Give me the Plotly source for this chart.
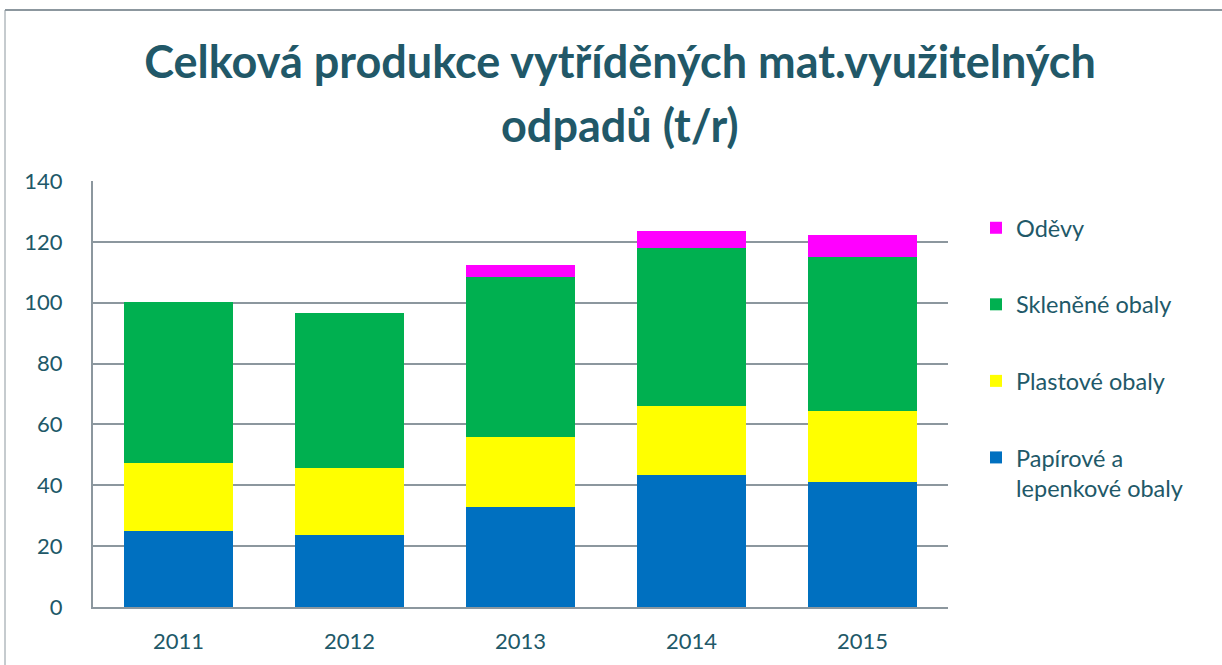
import plotly.graph_objects as go

years = ["2011", "2012", "2013", "2014", "2015"]
papir = [25.1, 23.6, 32.9, 43.3, 41.2]
plast = [22.2, 22.0, 23.1, 22.8, 23.2]
sklo = [53.0, 50.9, 52.4, 51.8, 50.6]
odevy = [0, 0, 3.9, 5.6, 7.4]

names = ["Papírové a<br>lepenkové obaly", "Plastové obaly", "Skleněné obaly", "Oděvy"]
series = [papir, plast, sklo, odevy]
colors = ["#0070C0", "#FFFF00", "#00B050", "#FF00FF"]
ranks = [4, 3, 2, 1]

TXT = "#215868"
GRID = "#8C979E"
FONT = "Lato"

fig = go.Figure()
for i, (n, v, c, r) in enumerate(zip(names, series, colors, ranks)):
    fig.add_trace(go.Bar(x=years, y=v, name=n, marker=dict(color=c, line=dict(width=0)),
                         legendgroup=f"g{i}", legendrank=r))

fig.update_layout(
    width=1222, height=665,
    barmode="stack", bargap=0.357,
    paper_bgcolor="white", plot_bgcolor="white",
    margin=dict(l=93, r=274, t=181, b=58),
    font=dict(family=FONT, color=TXT, size=22),
    title=dict(text="<b>Celková produkce vytříděných mat.využitelných</b>",
               x=620 / 1222, xanchor="center", y=1 - 62 / 665, yanchor="middle",
               yref="container", font=dict(family=FONT, size=45, color=TXT)),
    showlegend=True,
    legend=dict(x=(976 - 93) / 855, xanchor="left", y=(607 - 206) / 426, yanchor="top",
                traceorder="grouped", tracegroupgap=43, valign="top",
                font=dict(family=FONT, size=23.5, color=TXT), itemwidth=30,
                bgcolor="rgba(0,0,0,0)"),
    xaxis=dict(showline=True, linecolor=GRID, linewidth=2, ticks="", showgrid=False,
               ticklabelstandoff=14, tickfont=dict(size=22, color=TXT)),
    yaxis=dict(range=[0, 140], dtick=20, showline=True, linecolor=GRID, linewidth=2,
               showgrid=True, gridcolor=GRID, gridwidth=2, zeroline=False,
               ticks="", ticklabelstandoff=24, tickfont=dict(size=22, color=TXT)),
)

fig.add_annotation(text="<b>odpadů (t/r)</b>", xref="paper", yref="paper",
                   x=(620 - 93) / 855, y=(607 - 125) / 426, xanchor="center", yanchor="middle",
                   showarrow=False, font=dict(family=FONT, size=45, color=TXT))

# outer chart frame (top and left edges visible)
fig.add_shape(type="line", xref="paper", yref="paper", x0=(5 - 93) / 855, x1=1.6,
              y0=(607 - 10) / 426, y1=(607 - 10) / 426, line=dict(color=GRID, width=2))
fig.add_shape(type="line", xref="paper", yref="paper", x0=(5 - 93) / 855, x1=(5 - 93) / 855,
              y0=-0.2, y1=(607 - 10) / 426, line=dict(color=GRID, width=1))

fig.write_html("out.html", config={"displayModeBar": False},
               post_script="document.body.style.margin='0';")
